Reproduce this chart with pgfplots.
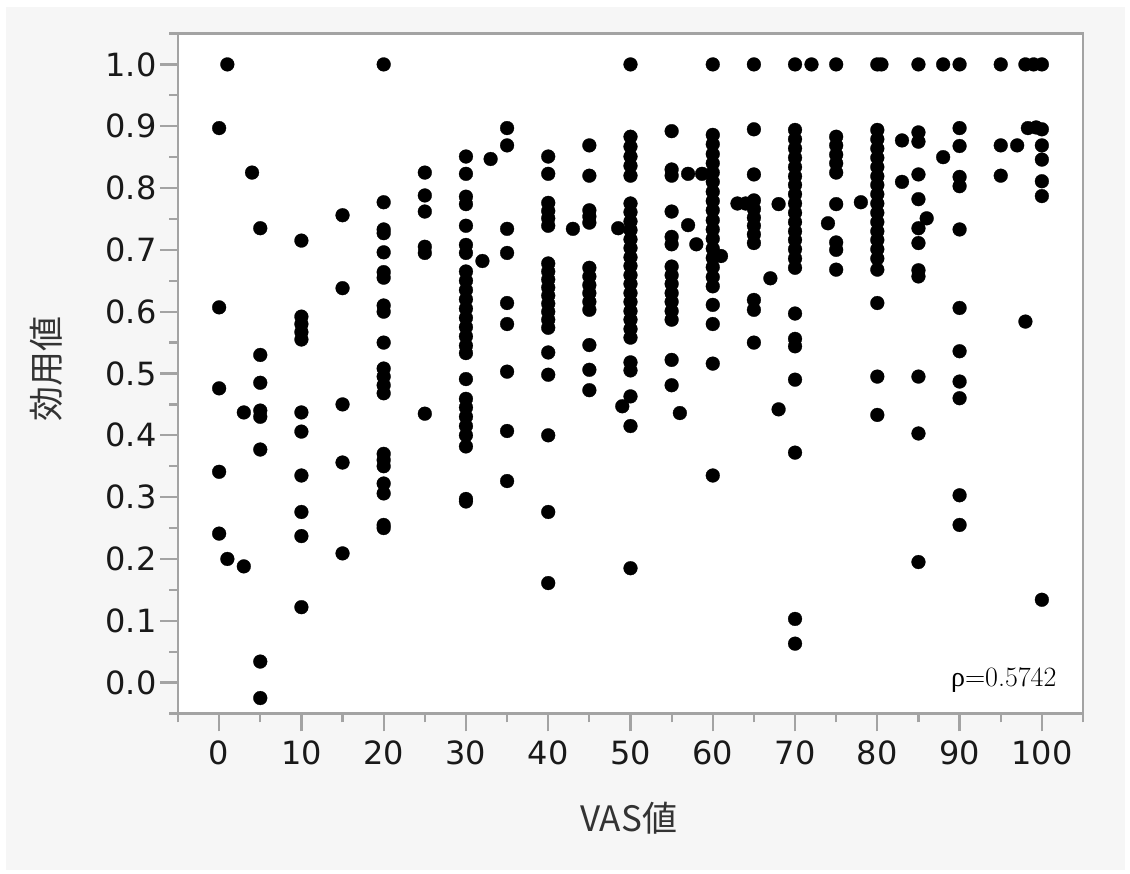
\documentclass[border=0pt]{standalone}
\usepackage{fontspec}
\usepackage{pgfplots}
\pgfplotsset{compat=1.18}
\newfontfamily\dejavu{DejaVu Sans}
\newfontfamily\jp{Noto Sans CJK JP}
\newfontfamily\lserif{Liberation Serif}
\definecolor{bg}{HTML}{F6F6F6}
\definecolor{axgray}{HTML}{A3A3A3}
\pgfplotstableread{
x y
0 0.897
0 0.607
0 0.476
0 0.341
0 0.241
1 1.0
1 0.2
3 0.437
3 0.188
4 0.825
5 0.735
5 0.53
5 0.485
5 0.44
5 0.43
5 0.377
5 0.034
5 -0.025
10 0.715
10 0.592
10 0.58
10 0.567
10 0.555
10 0.437
10 0.406
10 0.335
10 0.276
10 0.237
10 0.122
15 0.756
15 0.638
15 0.45
15 0.356
15 0.209
20 1.0
20 0.777
20 0.733
20 0.727
20 0.696
20 0.664
20 0.655
20 0.61
20 0.60
20 0.55
20 0.508
20 0.495
20 0.481
20 0.468
20 0.37
20 0.36
20 0.35
20 0.322
20 0.306
20 0.255
20 0.25
25 0.825
25 0.788
25 0.762
25 0.705
25 0.695
25 0.435
30 0.851
30 0.823
30 0.786
30 0.774
30 0.739
30 0.708
30 0.695
30 0.665
30 0.65
30 0.635
30 0.62
30 0.605
30 0.59
30 0.575
30 0.56
30 0.545
30 0.533
30 0.491
30 0.459
30 0.445
30 0.43
30 0.415
30 0.40
30 0.382
30 0.297
30 0.293
32 0.682
33 0.847
35 0.897
35 0.869
35 0.734
35 0.695
35 0.614
35 0.58
35 0.503
35 0.407
35 0.326
40 0.851
40 0.823
40 0.776
40 0.763
40 0.751
40 0.739
40 0.678
40 0.665
40 0.652
40 0.639
40 0.626
40 0.613
40 0.600
40 0.587
40 0.574
40 0.534
40 0.498
40 0.40
40 0.276
40 0.161
43 0.734
45 0.869
45 0.82
45 0.764
45 0.754
45 0.744
45 0.671
45 0.657
45 0.643
45 0.63
45 0.616
45 0.603
45 0.546
45 0.506
45 0.473
48.5 0.735
49 0.447
50 0.463
50 1.0
50 0.883
50 0.867
50 0.851
50 0.836
50 0.82
50 0.775
50 0.761
50 0.746
50 0.732
50 0.717
50 0.703
50 0.688
50 0.674
50 0.659
50 0.645
50 0.630
50 0.616
50 0.601
50 0.587
50 0.572
50 0.558
50 0.518
50 0.505
50 0.415
50 0.185
55 0.892
55 0.83
55 0.82
55 0.762
55 0.721
55 0.709
55 0.673
55 0.659
55 0.645
55 0.630
55 0.616
55 0.601
55 0.587
55 0.522
55 0.481
56 0.436
57 0.823
57 0.74
58 0.709
58.7 0.823
60 1.0
60 0.886
60 0.871
60 0.855
60 0.840
60 0.825
60 0.810
60 0.794
60 0.779
60 0.764
60 0.748
60 0.733
60 0.718
60 0.702
60 0.687
60 0.672
60 0.656
60 0.641
60 0.611
60 0.58
60 0.516
60 0.335
61 0.69
63 0.775
64 0.775
65 1.0
65 0.895
65 0.822
65 0.78
65 0.766
65 0.752
65 0.739
65 0.725
65 0.711
65 0.619
65 0.603
65 0.55
67 0.654
68 0.774
68 0.442
70 1.0
70 0.894
70 0.879
70 0.864
70 0.849
70 0.834
70 0.819
70 0.805
70 0.790
70 0.775
70 0.760
70 0.745
70 0.730
70 0.716
70 0.701
70 0.686
70 0.671
70 0.597
70 0.556
70 0.544
70 0.49
70 0.372
70 0.103
70 0.063
72 1.0
74 0.743
75 1.0
75 0.883
75 0.869
75 0.854
75 0.840
75 0.825
75 0.774
75 0.712
75 0.70
75 0.668
78 0.777
80 1.0
80.5 1.0
80 0.894
80 0.879
80 0.864
80 0.849
80 0.834
80 0.819
80 0.805
80 0.790
80 0.775
80 0.760
80 0.745
80 0.730
80 0.716
80 0.701
80 0.686
80 0.668
80 0.614
80 0.495
80 0.433
83 0.877
83 0.81
85 1.0
85 0.89
85 0.875
85 0.822
85 0.782
85 0.735
85 0.711
85 0.667
85 0.657
85 0.495
85 0.403
85 0.195
86 0.751
88 1.0
88 0.85
90 1.0
90 0.897
90 0.868
90 0.818
90 0.803
90 0.733
90 0.606
90 0.536
90 0.487
90 0.46
90 0.303
90 0.255
95 1.0
95 0.869
95 0.82
97 0.869
98 1.0
99 1.0
100 1.0
98.3 0.897
99.3 0.898
100 0.895
100 0.869
100 0.846
100 0.811
100 0.787
98 0.584
100 0.134
}\datatable
\begin{document}
\begin{tikzpicture}
\useasboundingbox (0pt,0pt) rectangle (1130pt,873pt);
\fill[white] (0pt,0pt) rectangle (1130pt,873pt);
\fill[bg] (6pt,3pt) rectangle (1125pt,866pt);
\begin{axis}[
  at={(178pt,159.5pt)}, anchor=south west,
  scale only axis, width=905pt, height=680pt,
  xmin=-5, xmax=105, ymin=-0.05, ymax=1.05,
  axis background/.style={fill=white},
  axis line style={axgray, line width=2.2pt},
  xtick={0,10,20,30,40,50,60,70,80,90,100},
  ytick={0,0.1,0.2,0.3,0.4,0.5,0.6,0.7,0.8,0.9,1.0},
  minor xtick={-5,5,15,25,35,45,55,65,75,85,95,105},
  minor ytick={-0.05,0.05,0.15,0.25,0.35,0.45,0.55,0.65,0.75,0.85,0.95,1.05},
  xtick pos=bottom, ytick pos=left,
  tick align=outside,
  major tick length=18pt, minor tick length=9pt,
  every tick/.style={axgray, line width=2.2pt},
  /pgf/number format/assume math mode=true,
  ticklabel style={font=\dejavu\fontsize{32}{38}\selectfont, text=black!90},
  xticklabel style={yshift=-6pt},
  yticklabel style={/pgf/number format/.cd, fixed, fixed zerofill, precision=1},
  xlabel={VAS値},
  ylabel={効用値},
  xlabel style={font=\jp\fontsize{35}{40}\selectfont, at={(axis description cs:0.498,-0.154)}, anchor=center, text=black!80},
  ylabel style={font=\jp\fontsize{35}{40}\selectfont, at={(axis description cs:-0.146,0.507)}, anchor=center, text=black!80},
  clip=false,
]
\addplot[only marks, mark=*, mark size=6.9pt, mark options={fill=black, draw=black, line width=0.3pt}] table[x=x, y=y] {\datatable};
\node[anchor=base east, font=\fontsize{28}{32}\selectfont] at (axis cs:102.2,-0.006) {{\lserif ρ}=0.5742};
\end{axis}
\end{tikzpicture}
\end{document}
